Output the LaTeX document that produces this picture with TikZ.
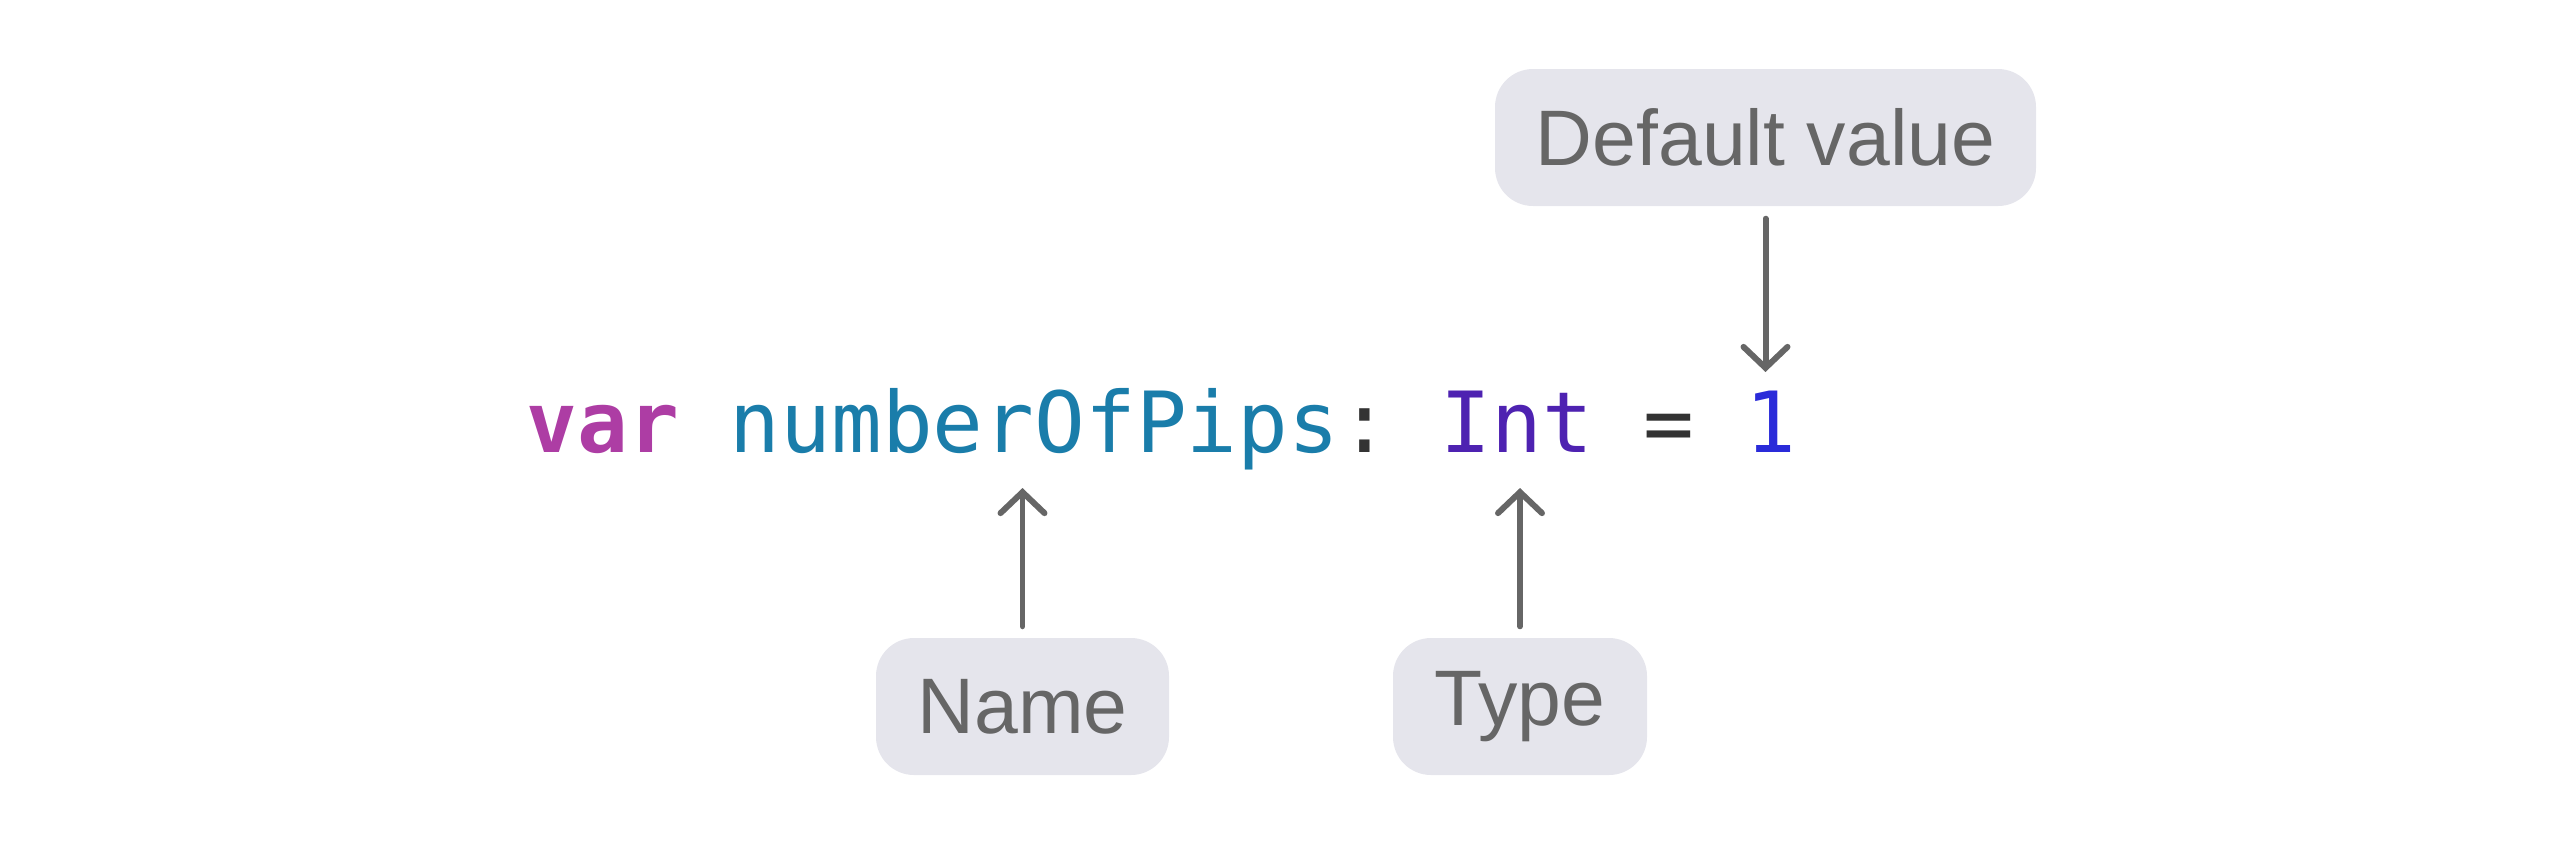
\documentclass[tikz,border=0pt]{standalone}
\usepackage{fontspec}
\setmainfont{Liberation Sans}
\newfontfamily\codefont{DejaVu Sans Mono}
\usetikzlibrary{arrows.meta}
\definecolor{boxfill}{HTML}{E5E5EC}
\definecolor{labelgray}{HTML}{666666}
\definecolor{kwpink}{HTML}{AD3DA4}
\definecolor{identblue}{HTML}{1A7DAA}
\definecolor{typepurple}{HTML}{4E22B1}
\definecolor{numblue}{HTML}{2A2BD9}
\definecolor{punctgray}{HTML}{333333}
\frenchspacing
\begin{document}
\begin{tikzpicture}
\tikzstyle{every node}+=[inner sep=0pt]
\tikzstyle{label}=[fill=boxfill, rounded corners=0.38cm, minimum height=1.37cm, text=labelgray, font=\fontsize{22.4}{24}\selectfont]
\tikzstyle{pointer}=[draw=labelgray, line width=1.7pt, line cap=round, -{Straight Barb[length=0.21cm, width=0.44cm, line width=1.7pt, line cap=round]}]
\useasboundingbox (0,0) rectangle (25.6,-8.45);
% code line
\node [anchor=base west, font=\codefont\fontsize{24}{24}\selectfont] (code) at (5.26,-4.52)
  {\textcolor{kwpink}{\bfseries var} \textcolor{identblue}{numberOfPips}\textcolor{punctgray}{:} \textcolor{typepurple}{Int} \textcolor{punctgray}{=} \textcolor{numblue}{1}};
% labels
\node [label, minimum width=5.41cm] (dflt) at (17.655,-1.375) {Default value};
\node [label, minimum width=2.93cm] (name) at (10.225,-7.065) {Name};
\node [label, minimum width=2.54cm] (type) at (15.2,-7.065) {Type};
% pointers
\coordinate (dfltend) at (17.655,-3.72);
\coordinate (nameend) at (10.225,-4.88);
\coordinate (typeend) at (15.2,-4.88);
\draw [pointer, shorten <=0.12cm] (dflt.south) -- (dfltend);
\draw [pointer, shorten <=0.11cm] (name.north) -- (nameend);
\draw [pointer, shorten <=0.11cm] (type.north) -- (typeend);
\end{tikzpicture}
\end{document}
